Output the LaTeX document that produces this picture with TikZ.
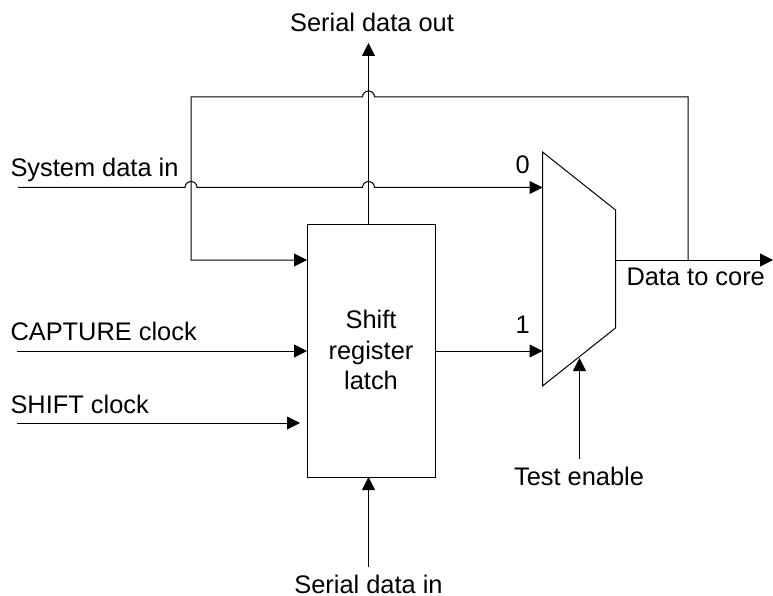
\documentclass[tikz,border=0pt]{standalone}
\usepackage{fontspec}
\setmainfont{Liberation Sans}
\usetikzlibrary{positioning, calc, arrows.meta}
\begin{document}
\begin{tikzpicture}[x=1pt,y=-1pt,font=\fontsize{25.4}{30.5}\selectfont,line width=1pt,
	arr/.style={-{Triangle[length=13pt,width=13pt]}},
	txt/.style={inner sep=0pt,anchor=base west},
	txtc/.style={inner sep=0pt,anchor=base}]
\useasboundingbox (0,0) rectangle (773,596);
\node[draw, minimum width=128pt, minimum height=253pt, inner sep=0pt] (reg) at (371,350.5) {};
\node[inner sep=0pt, align=center] (lreg) at (371,350) {Shift\\register\\latch};
% mux outline
\coordinate (m1) at (542.5,152); \coordinate (m2) at (615.5,210); \coordinate (m3) at (615.5,328); \coordinate (m4) at (542.5,386);
\draw (m1) -- (m2) -- (m3) -- (m4) -- cycle;
\coordinate (mux0) at (542.5,187.5); \coordinate (mux1) at (542.5,351); \coordinate (muxout) at (615.5,260); \coordinate (muxsel) at (579.5,358);
\coordinate (regin0) at (307,260); \coordinate (regin1) at (307,351); \coordinate (regin2) at (300,423); \coordinate (regout) at (435,351); \coordinate (regtop) at (368.5,224); \coordinate (regbot) at (368.5,477);
\coordinate (sysin) at (18,187.5); \coordinate (capin) at (17,351); \coordinate (shiftin) at (17,423); \coordinate (serin) at (368.5,567); \coordinate (serout) at (368.5,43); \coordinate (core) at (773,260); \coordinate (fb) at (688,260); \coordinate (testin) at (579.5,459);
% text
\node[txt] (lsys) at (10,177) {System data in};
\node[txt] (lcap) at (10,340) {CAPTURE clock};
\node[txt] (lshift) at (10,413) {SHIFT clock};
\node[txtc] (lserout) at (372,32) {Serial data out};
\node[txtc] (lserin) at (368.5,593) {Serial data in};
\node[txt] (lzero) at (515,174) {0};
\node[txt] (lone) at (515,333) {1};
\node[txt] (lcore) at (626,285) {Data to core};
\node[txtc] (ltest) at (579,485) {Test enable};
% wires
\draw[arr] (regtop) -- (serout);
\draw[arr] (serin) -- (regbot);
\draw[arr] (capin) -- (regin1);
\draw[arr] (shiftin) -- (regin2);
\draw[arr] (regout) -- (mux1);
\draw[arr] (testin) -- (muxsel);
\draw[arr] (muxout) -- (core);
\draw[arr] (sysin) -- (185,187.5) arc[start angle=180,end angle=0,radius=6pt] -- (362.5,187.5) arc[start angle=180,end angle=0,radius=6pt] -- (mux0);
\draw[arr] (fb) |- (374.5,97) arc[start angle=0,end angle=180,radius=6pt] -- (191,97) -- (191,260) -- (regin0);
\end{tikzpicture}
\end{document}
